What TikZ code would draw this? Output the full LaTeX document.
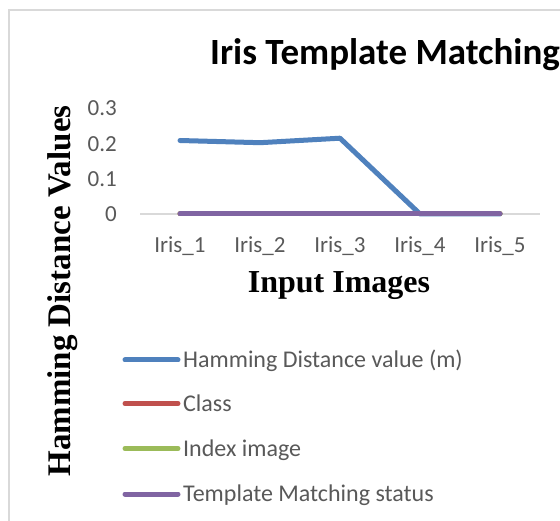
\documentclass[tikz,border=0pt]{standalone}
\usepackage{fontspec}
\setmainfont{Carlito}
\newfontfamily\timesbf{Liberation Serif}[BoldFont={Liberation Serif Bold}]
\definecolor{sblue}{HTML}{4F81BD}
\definecolor{sred}{HTML}{C0504D}
\definecolor{sgreen}{HTML}{9BBB59}
\definecolor{spurple}{HTML}{8064A2}
\definecolor{gridc}{HTML}{D9D9D9}
\definecolor{labc}{HTML}{595959}
\tikzset{
  gridline/.style={draw=gridc, line width=1.3pt},
  series/.style={line width=5pt, line cap=round, line join=round},
  ticklab/.style={inner sep=0pt, text=labc, font=\fontsize{23}{27}\selectfont},
  leglab/.style={inner sep=0pt, anchor=base west, text=labc, font=\fontsize{24}{28}\selectfont},
  axtitle/.style={inner sep=0pt, font=\timesbf\bfseries\fontsize{32}{36}\selectfont},
}
\begin{document}
\begin{tikzpicture}[x=1pt, y=-1pt]
\useasboundingbox (0,0) rectangle (560,521);
\fill[white] (0,0) rectangle (560,521);
\draw[gridc, line width=1.2pt] (9,10) rectangle (580,540);
% title
\node[inner sep=0pt, anchor=base west, font=\bfseries\fontsize{37}{42}\selectfont] (title) at (210,65) {Iris Template Matching};
% gridlines
\foreach \v/\yy in {0/214, 0.1/179, 0.2/144, 0.3/108} {
  \coordinate (gl\v) at (140,\yy);
  \coordinate (gr\v) at (540,\yy);
  \draw[gridline] (gl\v) -- (gr\v);
  \node[ticklab, anchor=east] (t\v) at (117,\yy) {\v};
}
% categories
\foreach \i/\xx in {1/180, 2/260, 3/340, 4/420, 5/500} {
  \node[ticklab, anchor=base] (c\i) at (\xx,253) {Iris\_\i};
}
% data points
\coordinate (b1) at (180,140.5);
\coordinate (b2) at (260,142.7);
\coordinate (b3) at (340,138.2);
\coordinate (b4) at (420,214);
\coordinate (b5) at (500,214);
\coordinate (z1) at (180,214);
\coordinate (z5) at (500,214);
\draw[series, sblue] (b1) -- (b2) -- (b3) -- (b4) -- (b5);
\draw[series, sred] (z1) -- (z5);
\draw[series, sgreen] (z1) -- (z5);
\draw[series, spurple] (z1) -- (z5);
% axis titles
\node[axtitle, anchor=base] (xt) at (339,293) {Input Images};
\node[axtitle, font=\timesbf\bfseries\fontsize{33}{36}\selectfont, rotate=90] (yt) at (63,291) {Hamming Distance Values};
% legend
\foreach \n/\yy/\c/\t in {1/360/sblue/Hamming Distance value (m), 2/403.5/sred/Class, 3/448.5/sgreen/Index image, 4/494/spurple/Template Matching status} {
  \coordinate (la\n) at (125,\yy);
  \coordinate (lb\n) at (178,\yy);
  \draw[series, \c] (la\n) -- (lb\n);
  \node[leglab] (lt\n) at (183,\yy+7.8) {\t};
}
\end{tikzpicture}
\end{document}
